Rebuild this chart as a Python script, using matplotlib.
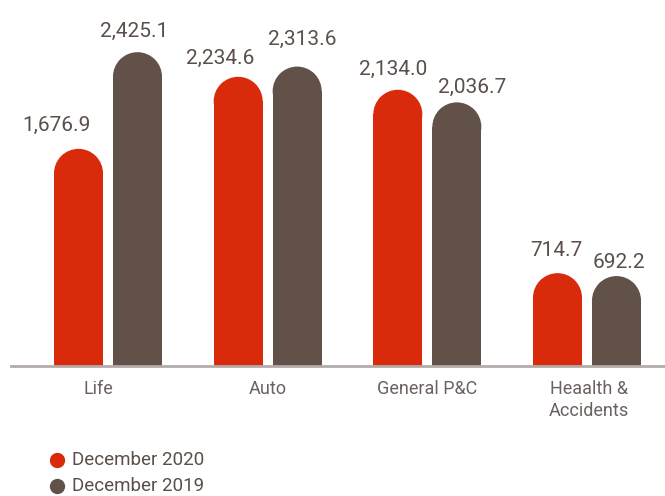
import numpy as np
import matplotlib
matplotlib.use("Agg")
import matplotlib.pyplot as plt
from matplotlib.patches import Ellipse
from matplotlib.lines import Line2D

# Data
categories = ["Life", "Auto", "General P&C", "Heaalth &\nAccidents"]
dec_2020 = [1676.9, 2234.6, 2134.0, 714.7]
dec_2019 = [2425.1, 2313.6, 2036.7, 692.2]
series_names = ["December 2020", "December 2019"]

# label nudges in pixels (x shift, baseline height above bar top)
dx_2020 = [-22, -18, -5, -1]
dy_2020 = [18, 12.7, 15, 16.7]
dx_2019 = [-3, 5, 15.5, 2]
dy_2019 = [15.7, 22, 9.7, 8.4]
cat_dx = [-10, 0, 0, 2]

red = "#d92b0c"
brown = "#625149"
txt = "#5b4f4a"
txt_light = "#6b6260"

plt.rcParams["font.family"] = ["Roboto", "DejaVu Sans"]

W, H = 665, 496
fig = plt.figure(figsize=(W / 100, H / 100), dpi=100)
ax = fig.add_axes([0, 0, 1, 1])

# pixel scales
px_x = 159.67           # pixels per category step
px_y = 0.1292           # pixels per value unit
base_px = 130.5         # baseline height from bottom (px)
x0_px = 108             # first group centre (px)

ax.set_xlim(-x0_px / px_x, (W - x0_px) / px_x)
ax.set_ylim(-base_px / px_y, (H - base_px) / px_y)
ax.axis("off")

bw = 49 / px_x          # bar width in data units
off = 29.5 / px_x       # offset of each bar from group centre
ry = 24.5 / px_y        # radius of the rounded cap, in y data units

x = np.arange(len(categories))

for vals, col, sgn, ldx, ldy in [(dec_2020, red, -1, dx_2020, dy_2020),
                                 (dec_2019, brown, 1, dx_2019, dy_2019)]:
    xs = x + sgn * off
    body = [v - ry for v in vals]
    ax.bar(xs, body, width=bw, color=col, linewidth=0)
    for xi, v, a, b in zip(xs, vals, ldx, ldy):
        ax.add_patch(Ellipse((xi, v - ry), bw, 2 * ry, color=col, linewidth=0))
        ax.text(xi + a / px_x, v + b / px_y, f"{v:,.1f}", ha="center",
                va="baseline", fontsize=15, color=txt)

ax.axhline(0, xmin=11 / W, xmax=1, color="#b3aba7", lw=2)

for xi, c, a in zip(x, categories, cat_dx):
    ax.text(xi + a / px_x, -15 / px_y, c, ha="center", va="top", fontsize=13,
            color=txt_light, linespacing=1.25)

# legend
for i, (name, col) in enumerate(zip(series_names, [red, brown])):
    yp = (36 - i * 26) / H
    fig.add_artist(Line2D([57 / W], [yp], marker="o", markersize=10,
                          color=col, linestyle="none", transform=fig.transFigure))
    fig.text(72 / W, yp, name, color=txt, fontsize=13.5, ha="left", va="center")

fig.savefig("out.png", dpi=100)
